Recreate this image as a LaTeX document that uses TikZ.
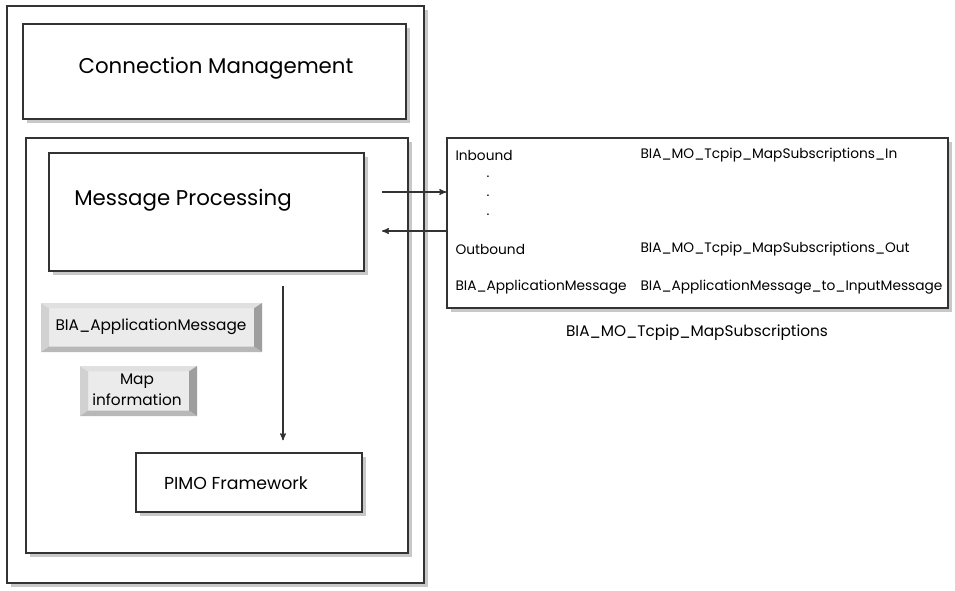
\documentclass[tikz,border=0pt]{standalone}
\usepackage{fontspec}
\setmainfont{Poppins}
\usepackage{tikz}
\usetikzlibrary{arrows,fit,shadows}

\definecolor{frameline}{HTML}{333333}
\definecolor{shade}{HTML}{C8C8C8}

\begin{document}
\begin{tikzpicture}[x=0.75pt,y=-0.75pt,>=stealth',thick,
  frame/.style={draw=frameline,line width=1.1pt,fill=white,inner sep=0pt,
    drop shadow={shadow xshift=3pt,shadow yshift=-3pt,fill=shade,opacity=1}},
  big label/.style={font=\fontsize{16}{19}\selectfont},
  small label/.style={font=\fontsize{10.3}{12}\selectfont,anchor=west,inner sep=0pt},
  button label/.style={font=\fontsize{11.5}{15.5}\selectfont,align=center,inner sep=0pt},
  button/.style={fill=black!8,inner sep=0pt,
    path picture={
      \coordinate (bsw) at (path picture bounding box.south west);
      \coordinate (bnw) at (path picture bounding box.north west);
      \coordinate (bne) at (path picture bounding box.north east);
      \coordinate (bse) at (path picture bounding box.south east);
      \fill[black!18] (bsw) -- (bnw) -- ([shift={(6pt,-4pt)}]bnw) -- ([shift={(6pt,4pt)}]bsw) -- cycle;
      \fill[black!12] (bnw) -- (bne) -- ([shift={(-6pt,-4pt)}]bne) -- ([shift={(6pt,-4pt)}]bnw) -- cycle;
      \fill[black!38] (bne) -- (bse) -- ([shift={(-6pt,4pt)}]bse) -- ([shift={(-6pt,-4pt)}]bne) -- cycle;
      \fill[black!28] (bse) -- (bsw) -- ([shift={(6pt,4pt)}]bsw) -- ([shift={(-6pt,4pt)}]bse) -- cycle;
    }}]

  \useasboundingbox (0,0) rectangle (955,590);

  % left hand stack
  \node[frame,fit={(7,6) (424,583)}] (outer) {};
  \node[frame,fit={(23,24) (406,119)}] (conn) {};
  \node[big label] (conn text) at (216,68) {Connection Management};
  \node[frame,fit={(26,138) (408,553)}] (core) {};
  \node[frame,fit={(49,153) (364,271)}] (msgproc) {};
  \node[big label] (msgproc text) at (183,200) {Message Processing};

  \node[button,fit={(41,303) (262,352)}] (appmsg) {};
  \node[button label] (appmsg text) at (151,327) {BIA\_ApplicationMessage};
  \node[button,fit={(80,366) (197,416)}] (mapinfo) {};
  \node[button label] (mapinfo text) at (137,390) {Map\\information};

  \node[frame,fit={(136,453) (362,512)}] (pimo) {};
  \node[font=\fontsize{13}{15}\selectfont] (pimo text) at (236,483) {PIMO Framework};

  % subscription table
  \node[frame,fit={(447,138) (948,308)}] (subs) {};
  \node[small label] (in name) at (455,155) {Inbound};
  \node[small label] (in map) at (640,155) {BIA\_MO\_Tcpip\_MapSubscriptions\_In};
  \foreach \y/\n in {177/1,196/2,215/3}
    \node[small label] (dot\n) at (486,\y) {.};
  \node[small label] (out name) at (455,249) {Outbound};
  \node[small label] (out map) at (640,249) {BIA\_MO\_Tcpip\_MapSubscriptions\_Out};
  \node[small label] (app name) at (455,287) {BIA\_ApplicationMessage};
  \node[small label] (app map) at (640,287) {BIA\_ApplicationMessage\_to\_InputMessage};
  \node[font=\fontsize{11.5}{13}\selectfont] (subs caption) at (697,333) {BIA\_MO\_Tcpip\_MapSubscriptions};

  % connectors
  \coordinate (in start) at (382,192);
  \coordinate (out end) at (382,231);
  \coordinate (down start) at (283,286);
  \path[draw=frameline,line width=0.9pt]
    (in start) edge[->] (in start -| subs.west)
    (out end -| subs.west) edge[->] (out end)
    (down start) edge[->,shorten >=10\pgflinewidth] (down start |- pimo.north);
\end{tikzpicture}
\end{document}
